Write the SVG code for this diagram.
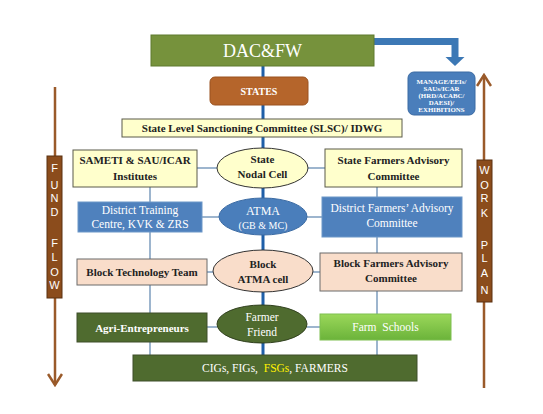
<svg xmlns="http://www.w3.org/2000/svg" width="543" height="414" viewBox="0 0 543 414">
<defs>
<style>
.t{font-family:"Liberation Serif","Times New Roman",serif;font-weight:bold;text-anchor:middle}
.d{fill:#222}
.w{fill:#fff}
.m{font-size:6.9px}
.s{font-family:"Liberation Sans",Arial,sans-serif;font-size:11px;fill:#fff;text-anchor:middle}
.yb{fill:#FFFFCC;stroke:#5a5a4a;stroke-width:1}
.bb{fill:#4F81BD;stroke:#6d97c8;stroke-width:1}
.pb{fill:#F9DDCA;stroke:#6b6b6b;stroke-width:1}
.gb{fill:#4F6B2F;stroke:#3e4f2a;stroke-width:1}
.side{stroke:#9DB5CE;stroke-width:2;fill:none}
.brown{stroke:#9A5A2A;stroke-width:2.5;fill:none}
</style>
<linearGradient id="fs" x1="0" y1="0" x2="0" y2="1">
<stop offset="0" stop-color="#9BD85A"/>
<stop offset="1" stop-color="#6BB33A"/>
</linearGradient>
<marker id="chev" markerWidth="14" markerHeight="16" refX="12" refY="8" orient="auto" markerUnits="userSpaceOnUse" viewBox="0 0 14 16">
<path d="M1,1 L12,8 L1,15" fill="none" stroke="#9A5A2A" stroke-width="2.5"/>
</marker>
</defs>
<rect width="543" height="414" fill="#fff"/>

<g id="connectors">
<line x1="263" y1="66" x2="263" y2="355" stroke="#1F5FA8" stroke-width="3"/>
<line class="side" x1="150" y1="187" x2="150" y2="355"/>
<line class="side" x1="377" y1="187" x2="377" y2="355"/>
<line class="side" x1="197" y1="168" x2="217" y2="168"/>
<line class="side" x1="308" y1="168" x2="325" y2="168"/>
<line class="side" x1="202" y1="217" x2="219" y2="217"/>
<line class="side" x1="307" y1="217" x2="322" y2="217"/>
<line class="side" x1="207" y1="272" x2="213" y2="272"/>
<line class="side" x1="313" y1="272" x2="320" y2="272"/>
<line class="side" x1="207" y1="327" x2="217" y2="327"/>
<line class="side" x1="307" y1="327" x2="320" y2="327"/>
<path d="M374,41.5 H455 V58" fill="none" stroke="#3C78B5" stroke-width="7"/>
<path d="M445.5,57 L464.5,57 L455,66 Z" fill="#3C78B5"/>
<line class="brown" x1="55" y1="87" x2="55" y2="385" marker-end="url(#chev)"/>
<line class="brown" x1="484" y1="388" x2="484" y2="75" marker-end="url(#chev)"/>
</g>

<g id="dacfw">
<rect x="151" y="35" width="223" height="31" fill="#76923C" stroke="#5f7a2e" stroke-width="1"/>
<text class="t w" x="262.5" y="57" style="font-weight:normal;font-size:18px">DAC&amp;FW</text>
</g>

<g id="manage">
<rect x="408" y="72" width="67" height="43" rx="6" fill="#4A7EBB" stroke="#3a6aa3" stroke-width="1"/>
<text class="t w m" x="441.5" y="84">MANAGE/EEIs/</text>
<text class="t w m" x="441.5" y="91">SAUs/ICAR</text>
<text class="t w m" x="441.5" y="98">(HRD/ACABC/</text>
<text class="t w m" x="441.5" y="105">DAESI)/</text>
<text class="t w m" x="441.5" y="112">EXHIBITIONS</text>
</g>

<g id="states">
<rect x="210" y="77" width="98" height="28" rx="5" fill="#B5652B" stroke="#9a5320" stroke-width="1"/>
<text class="t w" x="259" y="95" style="font-size:10px">STATES</text>
</g>

<g id="slsc">
<rect class="yb" x="122" y="119" width="280" height="18"/>
<text class="t d" x="262" y="132" style="font-size:11px">State Level Sanctioning Committee (SLSC)/ IDWG</text>
</g>

<g id="sameti">
<rect class="yb" x="73" y="150" width="124" height="37"/>
<text class="t d" x="135" y="164" style="font-size:11px">SAMETI &amp; SAU/ICAR</text>
<text class="t d" x="135" y="180" style="font-size:11px">Institutes</text>
</g>

<g id="nodal">
<ellipse cx="262.5" cy="168" rx="45.5" ry="20" fill="#FFFFCC" stroke="#333" stroke-width="1"/>
<text class="t d" x="262.5" y="163" style="font-size:11px">State</text>
<text class="t d" x="262.5" y="178" style="font-size:11px">Nodal Cell</text>
</g>

<g id="sfac">
<rect class="yb" x="325" y="149" width="137" height="38"/>
<text class="t d" x="393.5" y="164" style="font-size:11px">State Farmers Advisory</text>
<text class="t d" x="393.5" y="180" style="font-size:11px">Committee</text>
</g>

<g id="dtc">
<rect class="bb" x="78" y="202" width="124" height="30"/>
<text class="t w" x="140" y="214" style="font-weight:normal;font-size:11.5px">District Training</text>
<text class="t w" x="140" y="228" style="font-weight:normal;font-size:11.5px">Centre, KVK &amp; ZRS</text>
</g>

<g id="atma">
<ellipse cx="263" cy="216.5" rx="44" ry="18.5" fill="#4A7EBB" stroke="#3a6aa3" stroke-width="1"/>
<text class="t w" x="263" y="215" style="font-weight:normal;font-size:12px">ATMA</text>
<text class="t w" x="263" y="229" style="font-weight:normal;font-size:10px">(GB &amp; MC)</text>
</g>

<g id="dfac">
<rect class="bb" x="322" y="197" width="140" height="40"/>
<text class="t w" x="392" y="212" style="font-weight:normal;font-size:11.5px">District Farmers’ Advisory</text>
<text class="t w" x="392" y="227" style="font-weight:normal;font-size:11.5px">Committee</text>
</g>

<g id="btt">
<rect class="pb" x="77" y="259" width="130" height="26"/>
<text class="t d" x="142" y="275.5" style="font-size:11px">Block Technology Team</text>
</g>

<g id="bac">
<ellipse cx="263" cy="271" rx="50" ry="21" fill="#F9DDCA" stroke="#333" stroke-width="1"/>
<text class="t d" x="263" y="268" style="font-size:11px">Block</text>
<text class="t d" x="263" y="283" style="font-size:11px">ATMA cell</text>
</g>

<g id="bfac">
<rect class="pb" x="320" y="253" width="142" height="38"/>
<text class="t d" x="391" y="267" style="font-size:11px">Block Farmers Advisory</text>
<text class="t d" x="391" y="282" style="font-size:11px">Committee</text>
</g>

<g id="agri">
<rect class="gb" x="77" y="313" width="130" height="29"/>
<text class="t w" x="142" y="331.5" style="font-size:11px">Agri-Entrepreneurs</text>
</g>

<g id="friend">
<ellipse cx="262" cy="324" rx="45" ry="19" fill="#4F6B2F" stroke="#2f3f1c" stroke-width="1"/>
<text class="t w" x="262" y="321" style="font-weight:normal;font-size:11.5px">Farmer</text>
<text class="t w" x="262" y="336" style="font-weight:normal;font-size:11.5px">Friend</text>
</g>

<g id="farmschools">
<rect x="320" y="314" width="131" height="26" fill="url(#fs)" stroke="#7fbf50" stroke-width="1"/>
<text class="t w" x="385.5" y="331" style="font-weight:normal;font-size:11.5px" xml:space="preserve">Farm  Schools</text>
</g>

<g id="cigs">
<rect class="gb" x="133" y="355" width="284" height="26"/>
<text class="t w" x="275" y="372" style="font-weight:normal;font-size:11.5px" xml:space="preserve">CIGs, FIGs,  <tspan fill="#FFF200">FSGs</tspan>, FARMERS</text>
</g>

<g id="fundflow">
<rect x="47" y="156" width="15" height="142" fill="#8B4C1C" stroke="#5a3010" stroke-width="1"/>
<text class="s" x="54.5" y="172">F</text>
<text class="s" x="54.5" y="189">U</text>
<text class="s" x="54.5" y="202">N</text>
<text class="s" x="54.5" y="216">D</text>
<text class="s" x="54.5" y="247">F</text>
<text class="s" x="54.5" y="261">L</text>
<text class="s" x="54.5" y="276">O</text>
<text class="s" x="54.5" y="289">W</text>
</g>

<g id="workplan">
<rect x="477" y="160" width="15" height="142" fill="#8B4C1C" stroke="#5a3010" stroke-width="1"/>
<text class="s" x="484.5" y="174">W</text>
<text class="s" x="484.5" y="189">O</text>
<text class="s" x="484.5" y="202">R</text>
<text class="s" x="484.5" y="217">K</text>
<text class="s" x="484.5" y="249">P</text>
<text class="s" x="484.5" y="262">L</text>
<text class="s" x="484.5" y="277">A</text>
<text class="s" x="484.5" y="294">N</text>
</g>
</svg>
